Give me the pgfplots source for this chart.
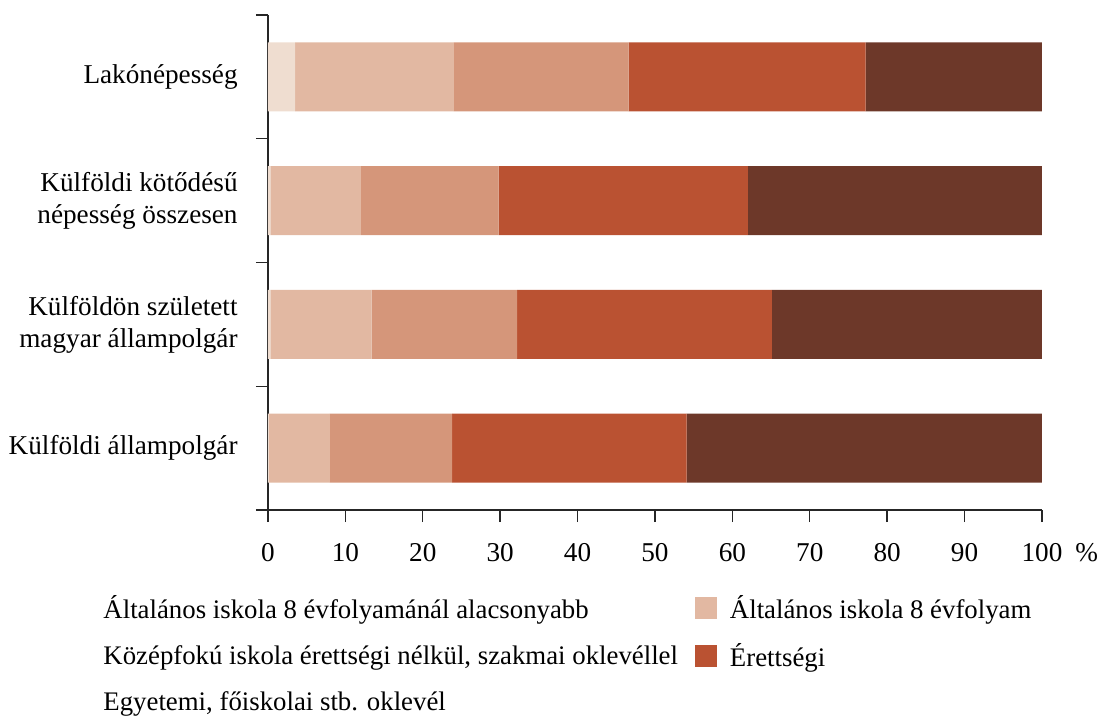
\documentclass[border=0pt]{standalone}
\usepackage{pgfplots}
\pgfplotsset{compat=1.18}
\usepackage{fontspec}
\setmainfont{Liberation Serif}
\definecolor{c1}{HTML}{EFDDD0}
\definecolor{c2}{HTML}{E2B8A2}
\definecolor{c3}{HTML}{D5967A}
\definecolor{c4}{HTML}{BA5232}
\definecolor{c5}{HTML}{6D3829}
\newcommand{\tf}{\fontsize{13.6}{16}\selectfont}
\newcommand{\lf}{\fontsize{13.4}{16}\selectfont}
\begin{document}
\begin{tikzpicture}
\begin{axis}[
  name=ax,
  scale only axis, width=387pt, height=247.5pt,
  clip=false,
  xbar stacked, bar width=34.5pt,
  xmin=0, xmax=100, ymin=-0.5, ymax=3.5, y dir=reverse,
  axis lines*=left,
  axis line style={black!85, line width=0.7pt},
  tick style={black!85, line width=0.7pt},
  tick align=outside, major tick length=6pt,
  xtick={0,10,...,100},
  xticklabels={0,10,20,30,40,50,60,70,80,90,{100\rlap{\hspace{6.5pt}\%}}},
  ytick={-0.5,0.5,1.5,2.5,3.5}, yticklabels={},
  extra y ticks={0,1,2,3},
  extra y tick labels={Lakónépesség, {Külföldi kötődésű\\népesség összesen}, {Külföldön született\\magyar állampolgár}, Külföldi állampolgár},
  extra y tick style={major tick length=0pt, yticklabel style={align=right, font=\tf, inner sep=1pt, xshift=-14pt}},
  xticklabel style={font=\tf, yshift=-7pt},
  /pgf/number format/assume math mode=true,
  legend columns=2,
  legend style={at={(-0.226,-0.155)}, anchor=north west, draw=none, font=\lf,
    /tikz/every even column/.append style={column sep=6.5pt}, row sep=7pt},
  legend cell align=left,
]
\addplot[fill=c1, draw=none, legend image code/.code={}] coordinates {(3.5,0) (0.3,1) (0.3,2) (0.1,3)};
\addlegendentry{Általános iskola 8 évfolyamánál alacsonyabb}
\addplot[fill=c2, draw=none, legend image code/.code={\fill[c2] (0pt,-5.5pt) rectangle (11pt,5.5pt); \path (15.5pt,0pt);}] coordinates {(20.5,0) (11.7,1) (13.1,2) (7.9,3)};
\addlegendentry{Általános iskola 8 évfolyam}
\addplot[fill=c3, draw=none, legend image code/.code={}] coordinates {(22.6,0) (17.8,1) (18.8,2) (15.8,3)};
\addlegendentry{Középfokú iskola érettségi nélkül, szakmai oklevéllel}
\addplot[fill=c4, draw=none, legend image code/.code={\fill[c4] (0pt,-5.5pt) rectangle (11pt,5.5pt); \path (15.5pt,0pt);}] coordinates {(30.6,0) (32.2,1) (32.9,2) (30.3,3)};
\addlegendentry{Érettségi}
\addplot[fill=c5, draw=none, legend image code/.code={}] coordinates {(22.8,0) (38.0,1) (34.9,2) (45.9,3)};
\addlegendentry{Egyetemi, főiskolai stb. oklevél}
\end{axis}
\pgfresetboundingbox
\path ([xshift=-134pt, yshift=-104pt]ax.south west) rectangle ([xshift=416pt, yshift=255pt]ax.south west);
\end{tikzpicture}
\end{document}
